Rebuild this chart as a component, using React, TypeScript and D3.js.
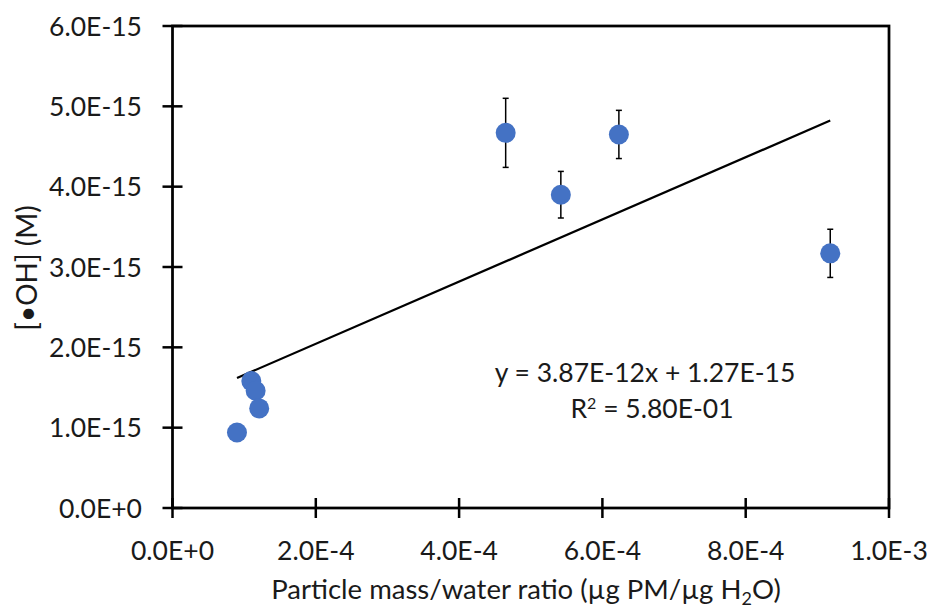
import React from "react";
import * as d3 from "d3";

const xValues = [9.0e-5, 1.1e-4, 1.16e-4, 1.21e-4, 4.65e-4, 5.42e-4, 6.23e-4, 9.18e-4];
const yValues = [0.94e-15, 1.58e-15, 1.46e-15, 1.24e-15, 4.67e-15, 3.9e-15, 4.65e-15, 3.17e-15];
const yErrors = [null, null, null, null, 0.43e-15, 0.29e-15, 0.3e-15, 0.3e-15];
const xTicks = [0, 2e-4, 4e-4, 6e-4, 8e-4, 1e-3];
const xTickLabels = ["0.0E+0", "2.0E-4", "4.0E-4", "6.0E-4", "8.0E-4", "1.0E-3"];
const yTicks = [0, 1e-15, 2e-15, 3e-15, 4e-15, 5e-15, 6e-15];
const yTickLabels = ["0.0E+0", "1.0E-15", "2.0E-15", "3.0E-15", "4.0E-15", "5.0E-15", "6.0E-15"];
const slope = 3.87e-12;
const intercept = 1.27e-15;

const W = 937;
const H = 609;
const left = 172.5;
const right = 889;
const top = 26;
const bottom = 508;
const FONT = "Lato, 'Open Sans', sans-serif";
const TXT = "#1a1a1a";

export default function App() {
  const x = d3.scaleLinear().domain([0, 1e-3]).range([left, right]);
  const y = d3.scaleLinear().domain([0, 6e-15]).range([bottom, top]);
  const xMin = d3.min(xValues) as number;
  const xMax = d3.max(xValues) as number;
  const trend = d3.line<number>().x((d) => x(d)).y((d) => y(slope * d + intercept));
  const fs = 26.5;
  return (
    <svg width={W} height={H} style={{ position: "absolute", left: 0, top: 0, background: "#fff" }}>
      <rect x={0} y={0} width={W} height={H} fill="#fff" />
      <rect x={left} y={top} width={right - left} height={bottom - top} fill="none" stroke="#000" strokeWidth={2.75} />
      {yTicks.map((t, i) => (
        <g key={"yt" + i}>
          <line x1={left - 10} x2={left + 10} y1={y(t)} y2={y(t)} stroke="#000" strokeWidth={2.5} />
          <text x={142} y={y(t)} dy="0.36em" textAnchor="end" fontFamily={FONT} fontSize={fs} fill={TXT}>
            {yTickLabels[i]}
          </text>
        </g>
      ))}
      {xTicks.map((t, i) => (
        <g key={"xt" + i}>
          <line x1={x(t)} x2={x(t)} y1={bottom - 10} y2={bottom + 10} stroke="#000" strokeWidth={2.5} />
          <text x={x(t)} y={560} textAnchor="middle" fontFamily={FONT} fontSize={fs} fill={TXT}>
            {xTickLabels[i]}
          </text>
        </g>
      ))}
      <path d={trend([xMin, xMax]) as string} fill="none" stroke="#000" strokeWidth={2.25} />
      {xValues.map((xv, i) => {
        const e = yErrors[i];
        if (e == null) return null;
        const cx = x(xv);
        const y1 = y(yValues[i] + e);
        const y2 = y(yValues[i] - e);
        return (
          <g key={"eb" + i} stroke="#000" strokeWidth={1.5}>
            <line x1={cx} x2={cx} y1={y1} y2={y2} />
            <line x1={cx - 3} x2={cx + 3} y1={y1} y2={y1} />
            <line x1={cx - 3} x2={cx + 3} y1={y2} y2={y2} />
          </g>
        );
      })}
      {xValues.map((xv, i) => (
        <circle key={"p" + i} cx={x(xv)} cy={y(yValues[i])} r={10} fill="#4472C4" />
      ))}
      <text x={645} y={382} textAnchor="middle" fontFamily={FONT} fontSize={fs} fill={TXT}>
        y = 3.87E-12x + 1.27E-15
      </text>
      <text x={652} y={418} textAnchor="middle" fontFamily={FONT} fontSize={fs} fill={TXT}>
        R<tspan fontSize={16} dy="-9">2</tspan><tspan dy="9"> = 5.80E-01</tspan>
      </text>
      <text x={526} y={599} textAnchor="middle" fontFamily={FONT} fontSize={27.5} fill={TXT}>
        Particle mass/water ratio (µg PM/µg H<tspan fontSize={18} dy="6">2</tspan><tspan dy="-6">O)</tspan>
      </text>
      <text
        transform={`translate(26.5,268) rotate(-90)`}
        dy="0.36em"
        textAnchor="middle"
        fontFamily={FONT}
        fontSize={28}
        fill={TXT}
      >
        [•OH] (M)
      </text>
    </svg>
  );
}
